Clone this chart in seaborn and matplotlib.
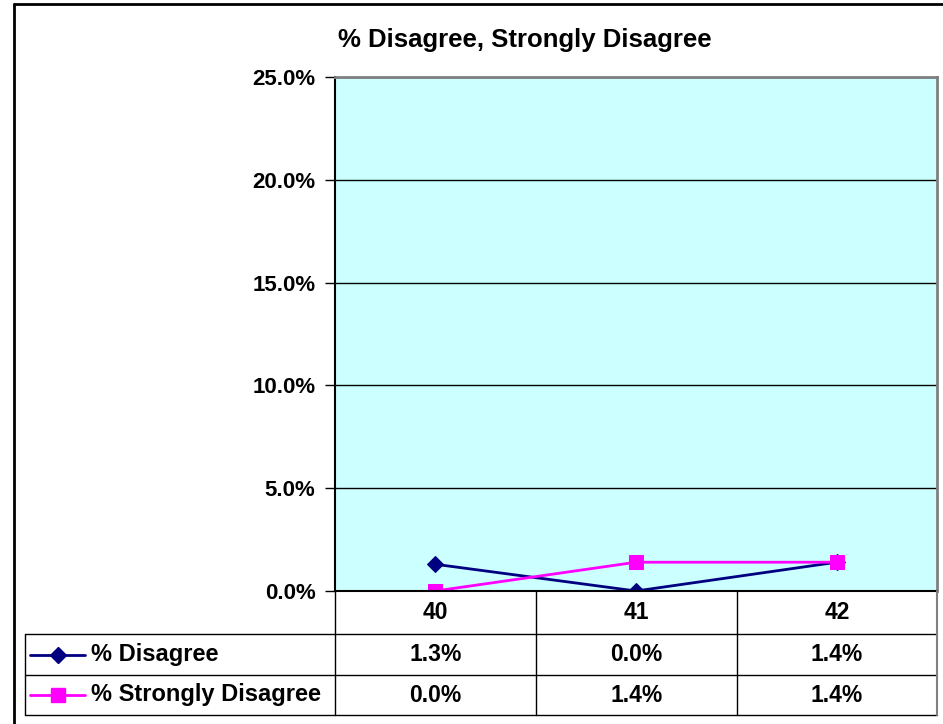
import numpy as np
import pandas as pd
import seaborn as sns
import matplotlib.pyplot as plt
from matplotlib.lines import Line2D

# Data
categories = ["40", "41", "42"]
disagree = [1.3, 0.0, 1.4]
strongly_disagree = [0.0, 1.4, 1.4]
series_names = ["% Disagree", "% Strongly Disagree"]
series_colors = ["#000080", "#FF00FF"]
series_markers = ["D", "s"]
yticks = [0, 5, 10, 15, 20, 25]

W, H = 943, 724

sns.set_style("white")
plt.rcParams['font.family'] = ['Liberation Sans', 'DejaVu Sans']
plt.rcParams['font.weight'] = 'bold'
plt.rcParams['text.color'] = 'black'
plt.rcParams['ytick.color'] = 'black'
plt.rcParams['ytick.labelcolor'] = 'black'

fig = plt.figure(figsize=(W / 100, H / 100), dpi=100)


def fx(px):
    return px / W


def fy(py):
    return 1 - py / H


# plot area in pixels
left, right, top, bottom = 335, 937, 77, 591
ax = fig.add_axes([fx(left), fy(bottom), (right - left) / W, (bottom - top) / H])
ax.set_facecolor("#CCFFFF")

df = pd.DataFrame({"pos": np.arange(len(categories)),
                   series_names[0]: disagree,
                   series_names[1]: strongly_disagree})

sizes = [8.5, 10.5]
for name, col, mk, ms in zip(series_names, series_colors, series_markers, sizes):
    sns.lineplot(data=df, x="pos", y=name, color=col, marker=mk, markersize=ms,
                 markeredgecolor=col, linewidth=2, ax=ax)

ax.set_xlim(-0.5, len(categories) - 0.5)
ax.set_ylim(0, 25)
ax.set_xticks([])
ax.set_yticks(yticks)
ax.set_yticklabels([f"{v:.1f}%" for v in yticks])
ax.set_xlabel("")
ax.set_ylabel("")
ax.yaxis.grid(True, color="black", linewidth=1)
ax.set_axisbelow(True)
ax.tick_params(axis="y", direction="out", length=7, width=1, labelsize=16, pad=7, left=True)
for s in ["top", "right"]:
    ax.spines[s].set_color("#808080")
    ax.spines[s].set_linewidth(2)
for s in ["left", "bottom"]:
    ax.spines[s].set_color("black")
    ax.spines[s].set_linewidth(1.5)

# Title
fig.text(fx(525), fy(40), "% Disagree, Strongly Disagree", ha="center", va="center",
         fontsize=18.5, fontweight="bold")

# Outer chart border
fig.add_artist(Line2D([fx(14), fx(14)], [fy(4), fy(H + 5)], color="black", linewidth=2))
fig.add_artist(Line2D([fx(14), fx(W + 5)], [fy(4), fy(4)], color="black", linewidth=2))

# Data table
col_edges = [335, 536, 737, 937]
row_edges = [591, 634, 675, 715]
tab_left = 25


def hline(x0, x1, y, c="black", lw=1):
    fig.add_artist(Line2D([fx(x0), fx(x1)], [fy(y), fy(y)], color=c, linewidth=lw))


def vline(x, y0, y1, c="black", lw=1):
    fig.add_artist(Line2D([fx(x), fx(x)], [fy(y0), fy(y1)], color=c, linewidth=lw))


for y in row_edges[1:]:
    hline(tab_left, col_edges[-1], y)
vline(tab_left, row_edges[1], row_edges[-1])
for x in col_edges[:-1]:
    vline(x, row_edges[0], row_edges[-1])
vline(col_edges[-1], row_edges[0], row_edges[-1], c="#808080", lw=1.5)

for i, cat in enumerate(categories):
    cx = (col_edges[i] + col_edges[i + 1]) / 2
    fig.text(fx(cx), fy((row_edges[0] + row_edges[1]) / 2), cat, ha="center", va="center",
             fontsize=16.5, fontweight="bold")

for r, (name, vals, col, mk, ms) in enumerate(zip(series_names, [disagree, strongly_disagree],
                                                   series_colors, series_markers, sizes)):
    cy = (row_edges[r + 1] + row_edges[r + 2]) / 2
    fig.add_artist(Line2D([fx(30), fx(85)], [fy(cy), fy(cy)], color=col, linewidth=2))
    fig.add_artist(Line2D([fx(58)], [fy(cy)], color=col, marker=mk, markersize=ms,
                          markeredgecolor=col, linestyle="none"))
    fig.text(fx(91), fy(cy), name, ha="left", va="center", fontsize=17, fontweight="bold")
    for i, v in enumerate(vals):
        cx = (col_edges[i] + col_edges[i + 1]) / 2
        fig.text(fx(cx), fy(cy), f"{v:.1f}%", ha="center", va="center",
                 fontsize=16.5, fontweight="bold")

fig.savefig("out.png", dpi=100, facecolor="white")
